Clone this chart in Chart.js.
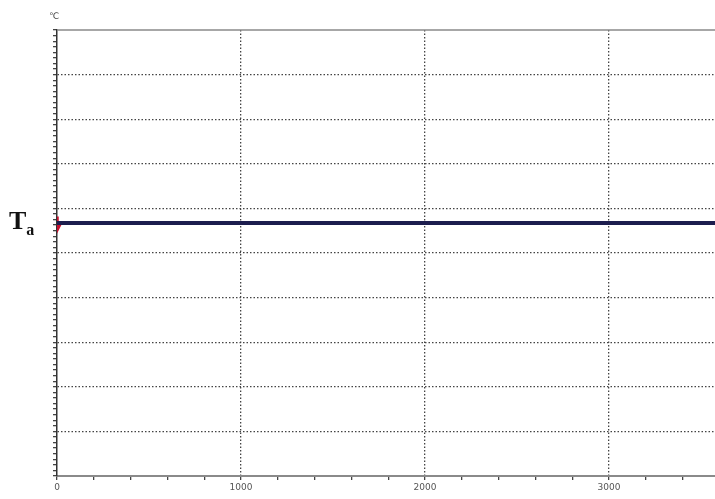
<!DOCTYPE html>
<html><head><meta charset="utf-8">
<script src="https://cdn.jsdelivr.net/npm/chart.js@4.4.0/dist/chart.umd.min.js"></script>
<style>
html,body{margin:0;padding:0;background:#fff;}
#wrap{position:relative;width:715px;height:499px;}
#unit{position:absolute;left:49px;top:11px;font:9px "DejaVu Sans",sans-serif;color:#444;}
#ta{position:absolute;left:9px;top:206px;font:bold 26px "Liberation Serif",serif;color:#111;}
#ta sub{font-size:16px;vertical-align:-6px;}
</style></head>
<body><div id="wrap"><canvas id="c" width="715" height="499"></canvas>
<div id="unit">℃</div><div id="ta">T<sub>a</sub></div></div>
<script>
const timeMain = [0, 500, 1000, 1500, 2000, 2500, 3000, 3576];
const tempMain = [5.67, 5.67, 5.67, 5.67, 5.67, 5.67, 5.67, 5.67];
const timeRed = [0, 0, 18, 1700, 3576];
const tempRed = [5.82, 5.52, 5.67, 5.67, 5.67];
const xMajor = [0, 1000, 2000, 3000];
const xMax = 3576;
const yMin = 0, yMax = 10;

const topLine = {
  id: 'topLine',
  afterDraw(chart) {
    const {ctx, chartArea} = chart;
    ctx.save();
    ctx.strokeStyle = '#8a8a8a';
    ctx.lineWidth = 1.5;
    ctx.beginPath();
    ctx.moveTo(chartArea.left, chartArea.top);
    ctx.lineTo(chartArea.right, chartArea.top);
    ctx.stroke();
    ctx.restore();
  }
};

new Chart(document.getElementById('c'), {
  type: 'line',
  data: {
    datasets: [
      {data: timeMain.map((t, i) => ({x: t, y: tempMain[i]})), borderColor: '#1c1d4e', borderWidth: 4, pointRadius: 0, tension: 0, order: 1},
      {data: timeRed.map((t, i) => ({x: t, y: tempRed[i]})), borderColor: '#c8102e', borderWidth: 3.5, pointRadius: 0, tension: 0, order: 2}
    ]
  },
  options: {
    responsive: false, animation: false,
    layout: {padding: {left: 0, top: 30, right: 0, bottom: 0}},
    plugins: {legend: {display: false}, tooltip: {enabled: false}},
    scales: {
      x: {
        type: 'linear', min: 0, max: xMax,
        afterBuildTicks: s => { const t = []; for (let v = 0; v <= xMax; v += 200) t.push({value: v}); s.ticks = t; },
        afterFit: s => { s.height = 23; },
        ticks: {autoSkip: false, maxRotation: 0, padding: 2, color: '#555', font: {size: 9, family: 'DejaVu Sans'},
          callback: v => xMajor.includes(v) ? String(v) : ''},
        grid: {
          color: c => (c.tick && xMajor.includes(c.tick.value) && c.tick.value !== 0) ? '#444' : 'rgba(0,0,0,0)',
          lineWidth: 1.3, tickLength: 4, tickColor: '#444'
        },
        border: {display: true, color: '#8a8a8a', width: 2, dash: [1.5, 2]}
      },
      y: {
        type: 'linear', min: yMin, max: yMax,
        afterBuildTicks: s => { const t = []; for (let i = 0; i <= 80; i++) t.push({value: i / 8}); s.ticks = t; },
        afterFit: s => { s.width = 57; },
        ticks: {autoSkip: false, display: true, callback: () => '', padding: 0},
        grid: {
          color: c => (c.tick && Number.isInteger(c.tick.value) && c.tick.value !== 0 && c.tick.value !== 10) ? '#444' : 'rgba(0,0,0,0)',
          lineWidth: 1.3, tickLength: 4, tickColor: '#444'
        },
        border: {display: true, color: '#333', width: 1.5, dash: [1.5, 2]}
      }
    }
  },
  plugins: [topLine]
});
</script></body></html>
